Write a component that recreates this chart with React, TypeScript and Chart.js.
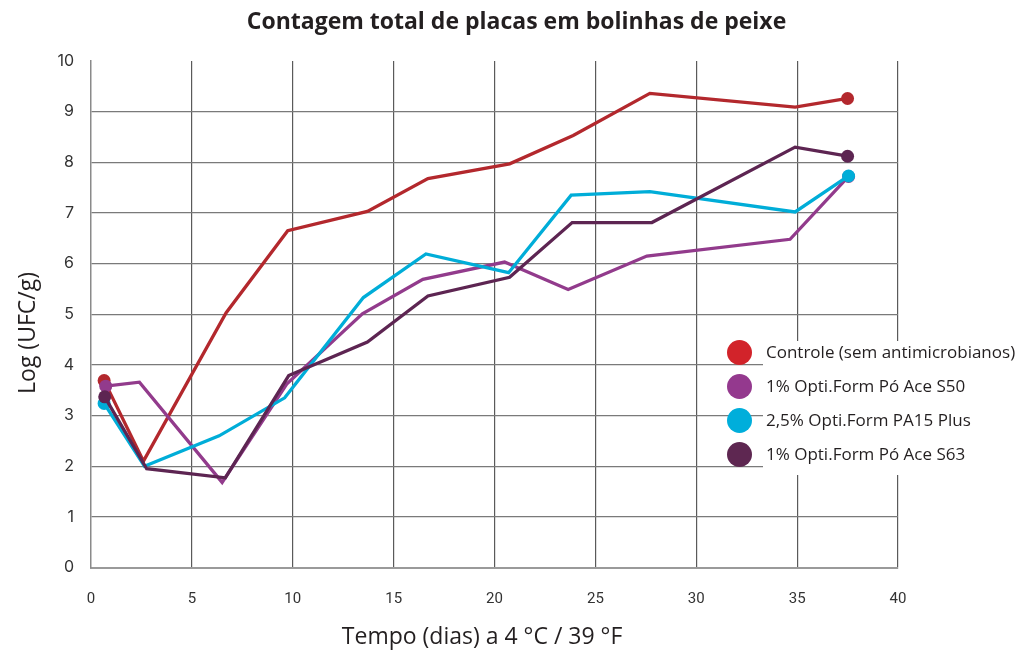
import React, { useEffect, useRef } from "react";
import { Chart, registerables } from "chart.js";

Chart.register(...registerables);

// ---- Data ----
const chartTitle = "Contagem total de placas em bolinhas de peixe";
const xAxisTitle = "Tempo (dias) a 4 °C / 39 °F";
const yAxisTitle = "Log (UFC/g)";

const seriesNames = [
  "Controle (sem antimicrobianos)",
  "1% Opti.Form Pó Ace S50",
  "2,5% Opti.Form PA15 Plus",
  "1% Opti.Form Pó Ace S63",
];

const controleDays = [0.65, 2.6, 6.7, 9.75, 13.7, 16.7, 20.75, 23.9, 27.7, 34.9, 37.5];
const controleValues = [3.69, 2.1, 5.03, 6.65, 7.03, 7.68, 7.97, 8.53, 9.36, 9.09, 9.26];

const s50Days = [0.73, 2.4, 6.5, 9.7, 13.45, 16.45, 20.5, 23.65, 27.55, 34.65, 37.55];
const s50Values = [3.58, 3.66, 1.68, 3.62, 5.01, 5.69, 6.03, 5.49, 6.15, 6.48, 7.72];

const pa15Days = [0.65, 2.65, 6.35, 9.6, 13.5, 16.6, 20.7, 23.8, 27.7, 34.9, 37.55];
const pa15Values = [3.24, 2.0, 2.6, 3.35, 5.33, 6.19, 5.82, 7.35, 7.42, 7.02, 7.73];

const s63Days = [0.68, 2.76, 6.66, 9.8, 13.7, 16.7, 20.75, 23.85, 27.8, 34.9, 37.5];
const s63Values = [3.37, 1.95, 1.77, 3.79, 4.45, 5.36, 5.73, 6.81, 6.81, 8.3, 8.12];

const lineColors = ["#B3282D", "#923B8C", "#00ADD8", "#5D2552"];
const legendColors = ["#D2232A", "#94398E", "#00AEDB", "#5E2751"];
const drawOrder = [3, 2, 1, 0];

const xMin = 0;
const xMax = 40;
const xStep = 5;
const yMin = 0;
const yMax = 10;
const yStep = 1;

const allDays = [controleDays, s50Days, pa15Days, s63Days];
const allValues = [controleValues, s50Values, pa15Values, s63Values];

const W = 1033;
const H = 650;

const axisTitleFont = "23px 'Open Sans', sans-serif";

const axisTitlesPlugin = {
  id: "axisTitlesOffset",
  afterDraw(chart: any) {
    const { ctx, chartArea } = chart;
    const cw = chartArea.right - chartArea.left;
    const ch = chartArea.bottom - chartArea.top;
    ctx.save();
    ctx.fillStyle = "#231f20";
    ctx.font = axisTitleFont;
    ctx.textAlign = "center";
    ctx.textBaseline = "alphabetic";
    // x-axis title
    ctx.fillText(xAxisTitle, chartArea.left + cw * 0.4846, chartArea.bottom + 76);
    // y-axis title
    ctx.translate(chartArea.left - 56, chartArea.top + ch * 0.537);
    ctx.rotate(-Math.PI / 2);
    ctx.fillText(yAxisTitle, 0, 0);
    ctx.restore();
  },
};

export default function App() {
  const canvasRef = useRef<HTMLCanvasElement | null>(null);

  useEffect(() => {
    const canvas = canvasRef.current;
    if (!canvas) return;

    const datasets = seriesNames.map((name, i) => {
      const days = allDays[i];
      const vals = allValues[i];
      const last = days.length - 1;
      return {
        label: name,
        data: days.map((d, k) => ({ x: d, y: vals[k] })),
        borderColor: lineColors[i],
        backgroundColor: lineColors[i],
        borderWidth: 3.3,
        tension: 0,
        order: drawOrder[i],
        pointRadius: (ctx: any) => (ctx.dataIndex === 0 || ctx.dataIndex === last ? 6.5 : 0),
        pointBorderWidth: 0,
        pointBackgroundColor: lineColors[i],
        pointBorderColor: lineColors[i],
        fill: false,
        yAxisID: "y",
      };
    });

    const chart = new Chart(canvas, {
      type: "line",
      data: { datasets } as any,
      plugins: [axisTitlesPlugin as any],
      options: {
        animation: false,
        responsive: false,
        maintainAspectRatio: false,
        layout: { padding: 0 },
        plugins: {
          legend: { display: false },
          tooltip: { enabled: false },
          title: {
            display: true,
            text: chartTitle,
            color: "#231f20",
            font: { family: "'Open Sans', sans-serif", size: 23, weight: "bold" },
            padding: { top: 9, bottom: 24.4 },
          },
        },
        scales: {
          x: {
            type: "linear",
            min: xMin,
            max: xMax,
            ticks: {
              stepSize: xStep,
              padding: 23,
              color: "#333",
              font: { family: "Roboto, sans-serif", size: 15 },
            },
            grid: {
              drawTicks: false,
              color: (ctx: any) => (ctx.tick && ctx.tick.value === 0 ? "rgba(0,0,0,0)" : "#5a5a5a"),
              lineWidth: 1.2,
            },
            border: { color: "#9a9a9a", width: 2 },
            afterFit: (s: any) => {
              s.height = 82.5;
            },
          },
          y: {
            type: "linear",
            position: "left",
            min: yMin,
            max: yMax,
            ticks: {
              stepSize: yStep,
              padding: 17,
              color: "#333",
              font: { family: "Inter, sans-serif", size: 16 },
            },
            grid: {
              drawTicks: false,
              color: (ctx: any) =>
                ctx.tick && (ctx.tick.value === 10 || ctx.tick.value === 0) ? "rgba(0,0,0,0)" : "#7a7a7a",
              lineWidth: 1.3,
            },
            border: { color: "#8a8a8a", width: 1.5 },
            afterFit: (s: any) => {
              s.width = 91;
            },
          },
          // empty right-hand spacer so the plot ends where the reference's does
          spacer: {
            type: "linear",
            position: "right",
            display: true,
            grid: { display: false, drawTicks: false },
            ticks: { display: false },
            border: { display: false },
            afterFit: (s: any) => {
              s.width = 135;
            },
          },
        },
      } as any,
    });

    return () => {
      chart.destroy();
    };
  }, []);

  const rowCenters = [352, 386, 420, 454];

  return (
    <div style={{ position: "fixed", left: 0, top: 0, width: W, height: H, background: "#fff" }}>
      <canvas ref={canvasRef} width={W} height={H} style={{ display: "block", width: W, height: H }} />
      <div
        style={{
          position: "absolute",
          left: 763,
          top: 341,
          width: 270,
          height: 134,
          background: "#fff",
        }}
      />
      {seriesNames.map((name, i) => (
        <div
          key={name}
          style={{
            position: "absolute",
            left: 727,
            top: rowCenters[i] - 13,
            height: 26,
            display: "flex",
            alignItems: "center",
            whiteSpace: "nowrap",
          }}
        >
          <span
            style={{
              display: "inline-block",
              width: 25,
              height: 25,
              borderRadius: "50%",
              background: legendColors[i],
            }}
          />
          <span
            style={{
              marginLeft: 14,
              fontFamily: "'Open Sans', sans-serif",
              fontSize: 17,
              color: "#231f20",
              lineHeight: "26px",
            }}
          >
            {name}
          </span>
        </div>
      ))}
    </div>
  );
}
